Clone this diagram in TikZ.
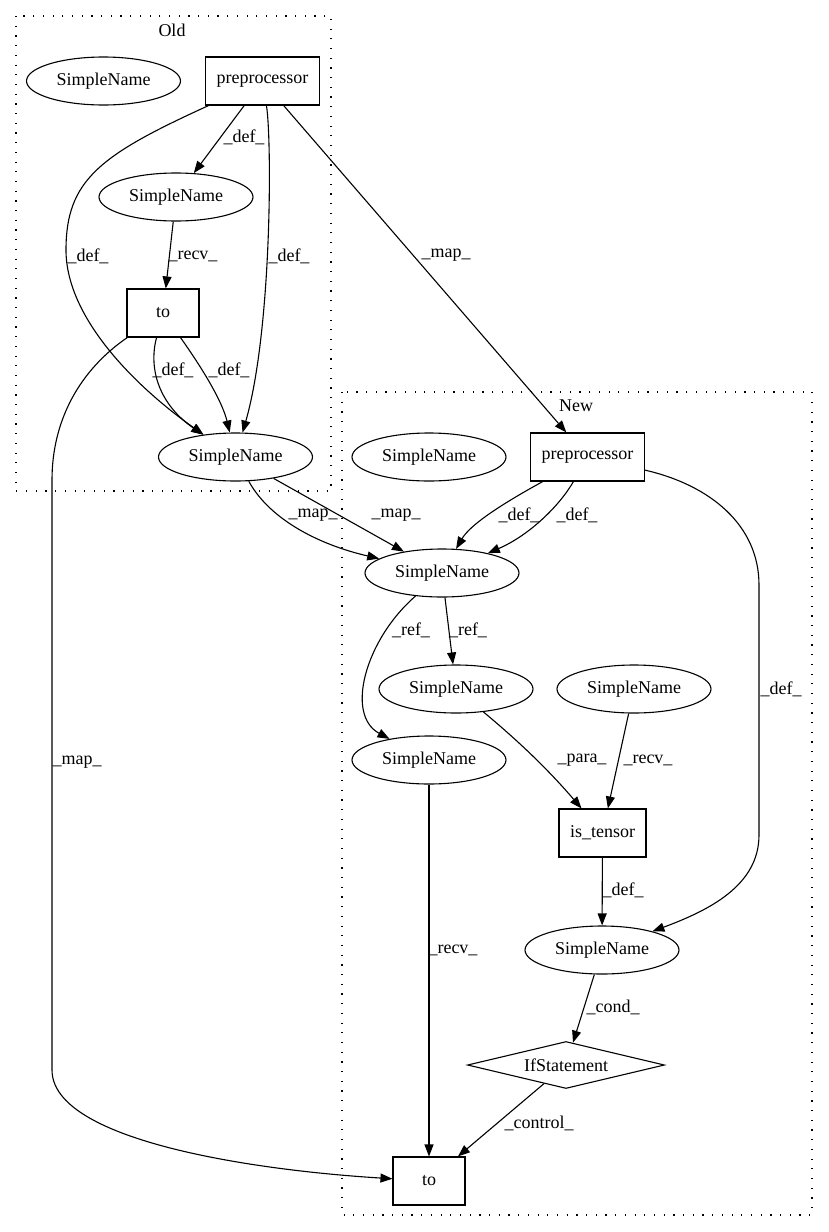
\documentclass[tikz,border=0pt]{standalone}
\usepackage{fontspec}
\setmainfont{Liberation Serif}
\usetikzlibrary{shapes.geometric,arrows.meta}

\begin{document}
\begin{tikzpicture}[x=1pt, y=-1pt, line width=1.1pt,
  every node/.style={font=\fontsize{18}{21}\selectfont},
  snode/.style={ellipse, draw, minimum width=154pt, minimum height=48pt, inner sep=0pt},
  opnode/.style={rectangle, draw, minimum width=72pt, minimum height=48pt, inner xsep=11pt},
  ifnode/.style={diamond, draw, aspect=4.2, minimum width=197pt, minimum height=47pt, inner sep=0pt},
  elabel/.style={inner sep=0pt},
  arr/.style={-{Triangle[length=12pt,width=9pt]}},
  cluster/.style={line width=1.2pt, dash pattern=on 1.2pt off 8.5pt}]
  \useasboundingbox (0,0) rectangle (828,1232);

  % clusters
  \draw[cluster] (16,16) rectangle (331,491);
  \node (oldtitle) at (172,30) {Old};
  \draw[cluster] (342,392) rectangle (812,1215);
  \node (newtitle) at (576,406) {New};

  % old graph
  \node[snode]  (o0)  at (103.5,81) {SimpleName};
  \node[opnode] (op)  at (262.5,81) {preprocessor};
  \node[snode]  (o1)  at (176,197)  {SimpleName};
  \node[opnode] (oto) at (163,313)  {to};
  \node[snode]  (o3)  at (235.5,457) {SimpleName};

  % new graph
  \node[snode]  (n0)  at (429,457)   {SimpleName};
  \node[opnode] (np)  at (587.5,457) {preprocessor};
  \node[snode]  (n1)  at (442,573)   {SimpleName};
  \node[snode]  (n2)  at (456,689)   {SimpleName};
  \node[snode]  (n3)  at (634,689)   {SimpleName};
  \node[snode]  (n4)  at (429,760)   {SimpleName};
  \node[opnode] (nis) at (602.5,833) {is\_tensor};
  \node[snode]  (n5)  at (602,950)   {SimpleName};
  \node[ifnode] (nif) at (566,1065)  {IfStatement};
  \node[opnode] (nto) at (429,1181)  {to};

  \draw[arr] (op) -- (o1) node[elabel] at (244,137) {\_def\_};
  \draw[arr] (op) .. controls (100,155) and (66,180) .. (66,250)
    .. controls (66,320) and (140,390) .. (o3) node[elabel] at (88,256) {\_def\_};
  \draw[arr] (op) .. controls (272,140) and (272,330) .. (o3) node[elabel] at (289,256) {\_def\_};
  \draw[arr] (op) -- (np) node[elabel] at (446,255) {\_map\_};
  \draw[arr] (o1) -- (oto) node[elabel] at (193,256) {\_recv\_};
  \draw[arr] (oto) .. controls (148,370) and (160,405) .. (o3) node[elabel] at (173,370) {\_def\_};
  \draw[arr] (oto) .. controls (200,365) and (222,400) .. (o3) node[elabel] at (229,370) {\_def\_};
  \draw[arr] (oto) .. controls (80,370) and (52,420) .. (52,480) -- (52,1070)
    .. controls (52,1140) and (250,1170) .. (nto) node[elabel] at (77,762) {\_map\_};

  \draw[arr] (o3) .. controls (270,520) and (320,545) .. (n1) node[elabel] at (313,515) {\_map\_};
  \draw[arr] (o3) -- (n1) node[elabel] at (396,515) {\_map\_};

  \draw[arr] (np) .. controls (500,505) and (470,525) .. (n1) node[elabel] at (519,515) {\_def\_};
  \draw[arr] (np) .. controls (560,505) and (530,535) .. (n1) node[elabel] at (577,515) {\_def\_};
  \draw[arr] (np) .. controls (710,485) and (759,525) .. (759,585) -- (759,835)
    .. controls (759,885) and (710,910) .. (n5) node[elabel] at (781,689) {\_def\_};
  \draw[arr] (n1) .. controls (365,640) and (345,715) .. (n4) node[elabel] at (411,630) {\_ref\_};
  \draw[arr] (n1) -- (n2) node[elabel] at (468,630) {\_ref\_};
  \draw[arr] (n2) .. controls (505,730) and (540,760) .. (nis) node[elabel] at (582,760) {\_para\_};
  \draw[arr] (n3) -- (nis) node[elabel] at (648,760) {\_recv\_};
  \draw[arr] (n4) -- (nto) node[elabel] at (453,950) {\_recv\_};
  \draw[arr] (nis) -- (n5) node[elabel] at (623,890) {\_def\_};
  \draw[arr] (n5) -- (nif) node[elabel] at (613,1007) {\_cond\_};
  \draw[arr] (nif) -- (nto) node[elabel] at (539,1123) {\_control\_};
\end{tikzpicture}
\end{document}
